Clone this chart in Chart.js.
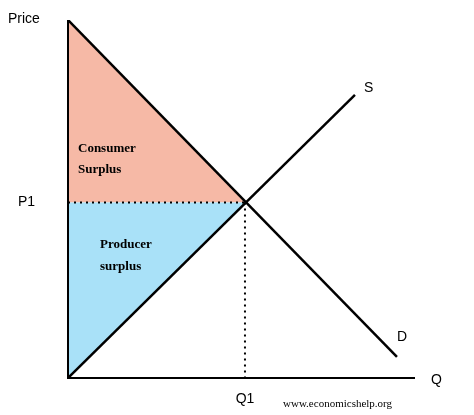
<!DOCTYPE html>
<html><head><meta charset="utf-8">
<script src="https://cdn.jsdelivr.net/npm/chart.js@4"></script>
<style>html,body{margin:0;padding:0;background:#fff}#w{width:474px;height:415px}</style>
</head><body><div id="w"><canvas id="c"></canvas></div>
<script>
const demandX=[0,94.8], demandY=[100,5.9];
const supplyX=[0,82.7], supplyY=[0,79.1];
const P1=49, Q1=51;
const consumerX=[0,Q1,0], consumerY=[100,P1,P1];
const producerX=[0,Q1,0], producerY=[0,P1,P1];
const labels={price:'Price',p1:'P1',q1:'Q1',q:'Q',s:'S',d:'D',web:'www.economicshelp.org'};

const pts=(xs,ys)=>xs.map((x,i)=>({x,y:ys[i]}));
const poly={id:'poly',beforeDatasetsDraw(ch){
  const c=ch.ctx,xs=ch.scales.x,ys=ch.scales.y;
  const fillP=(X,Y,col)=>{c.beginPath();X.forEach((x,i)=>{const px=xs.getPixelForValue(x),py=ys.getPixelForValue(Y[i]);i?c.lineTo(px,py):c.moveTo(px,py);});c.closePath();c.fillStyle=col;c.fill();};
  c.save();
  fillP(consumerX,consumerY,'#F6B9A6');
  fillP(producerX,producerY,'#A9E1F8');
  const x0=xs.getPixelForValue(0),y0=ys.getPixelForValue(0),qx=xs.getPixelForValue(Q1),py=ys.getPixelForValue(P1);
  c.setLineDash([2,4]);c.lineWidth=2;c.strokeStyle='#000';
  c.beginPath();c.moveTo(x0,py);c.lineTo(qx,py);c.moveTo(qx,py);c.lineTo(qx,y0);c.stroke();
  c.setLineDash([]);
  c.beginPath();c.moveTo(x0,ys.getPixelForValue(100));c.lineTo(x0,y0);c.lineTo(xs.getPixelForValue(100),y0);c.stroke();
  c.fillStyle='#000';c.font='14px "Liberation Sans",Arial';c.textBaseline='middle';
  c.textAlign='left';c.fillText(labels.price,8,19);c.fillText(labels.p1,18,py);
  c.textAlign='center';c.fillText(labels.q1,qx,399);
  c.textAlign='left';c.fillText(labels.q,431,380);c.fillText(labels.s,364,88);c.fillText(labels.d,397,337);
  c.font='bold 13px "Liberation Serif",serif';
  c.fillText('Consumer',78,149);c.fillText('Surplus',78,170);
  c.fillText('Producer',100,245);c.fillText('surplus',100,267);
  c.font='11px "Liberation Serif",serif';c.fillText(labels.web,283,404);
  c.restore();
}};
new Chart(document.getElementById('c'),{type:'scatter',
 data:{datasets:[
  {data:pts(demandX,demandY),showLine:true,borderColor:'#000',borderWidth:2.5,pointRadius:0},
  {data:pts(supplyX,supplyY),showLine:true,borderColor:'#000',borderWidth:2.5,pointRadius:0}]},
 options:{responsive:true,maintainAspectRatio:false,animation:false,
  layout:{padding:{left:68,top:20,right:59,bottom:37}},
  plugins:{legend:{display:false},tooltip:{enabled:false}},
  scales:{x:{type:'linear',min:0,max:100,display:false},y:{type:'linear',min:0,max:100,display:false}}},
 plugins:[poly]});
</script></body></html>
